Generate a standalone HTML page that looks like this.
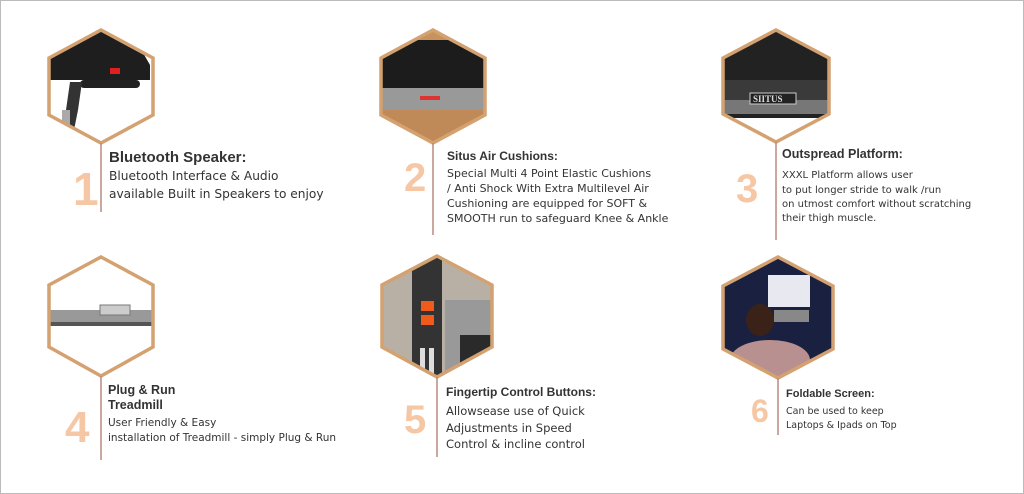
<!DOCTYPE html>
<html><head><meta charset="utf-8"><style>
body{margin:0;width:1024px;height:494px;background:#fff;overflow:hidden}
svg{display:block}
.t{font-family:"Liberation Sans",sans-serif;font-weight:bold;fill:#333}
.b{font-family:"DejaVu Sans","Liberation Sans",sans-serif;fill:#333}
.n{font-family:"Liberation Sans",sans-serif;font-weight:bold;fill:#f6c7a4}
</style></head><body>
<svg width="1024" height="494" viewBox="0 0 1024 494">
<rect x="0.5" y="0.5" width="1023" height="493" fill="#fff" stroke="#bbb"/>
<defs>
<clipPath id="c1"><polygon points="101,30 153,58 153,115 101,143 49,115 49,58"/></clipPath>
<clipPath id="c2"><polygon points="433,30 485,58 485,115 433,143 381,115 381,58"/></clipPath>
<clipPath id="c3"><polygon points="776,30 829,58 829,114 776,142 723,114 723,58"/></clipPath>
<clipPath id="c4"><polygon points="101,257 153,285 153,347 101,376 49,347 49,285"/></clipPath>
<clipPath id="c5"><polygon points="437,256 492,285 492,347 437,377 382,347 382,285"/></clipPath>
<clipPath id="c6"><polygon points="778,257 833,286 833,349 778,378 723,349 723,286"/></clipPath>
</defs>
<!-- 1 -->
<g clip-path="url(#c1)"><rect x="40" y="25" width="120" height="125" fill="#fff"/>
<polygon points="40,30 130,30 150,65 150,80 40,80" fill="#1e1e1e"/>
<rect x="110" y="68" width="10" height="6" fill="#e02020"/>
<rect x="80" y="80" width="60" height="8" rx="4" fill="#222"/>
<polygon points="70,82 82,82 78,110 72,140 62,140 66,110" fill="#333"/>
<rect x="62" y="110" width="8" height="40" fill="#aaa"/></g>
<polygon points="101,30 153,58 153,115 101,143 49,115 49,58" fill="none" stroke="#d4a170" stroke-width="3.5"/>
<line x1="101" y1="143" x2="101" y2="212" stroke="#b98a80" stroke-width="1.5"/>
<text class="n" x="73" y="205" font-size="46">1</text>
<text class="t" x="109" y="162" font-size="15">Bluetooth Speaker:</text>
<text class="b" x="109" y="180" font-size="12.2">Bluetooth Interface &amp; Audio</text>
<text class="b" x="109" y="198" font-size="12.2">available Built in Speakers to enjoy</text>
<!-- 2 -->
<g clip-path="url(#c2)"><rect x="375" y="25" width="120" height="125" fill="#c8925e"/>
<rect x="375" y="40" width="120" height="48" fill="#1c1c1c"/>
<rect x="375" y="88" width="120" height="22" fill="#999"/>
<rect x="420" y="96" width="20" height="4" fill="#d33"/>
<rect x="375" y="110" width="120" height="40" fill="#c08a58"/></g>
<polygon points="433,30 485,58 485,115 433,143 381,115 381,58" fill="none" stroke="#d4a170" stroke-width="3.5"/>
<line x1="433" y1="143" x2="433" y2="235" stroke="#b98a80" stroke-width="1.5"/>
<text class="n" x="404" y="191" font-size="40">2</text>
<text class="t" x="447" y="160" font-size="12">Situs Air Cushions:</text>
<text class="b" x="447" y="177" font-size="11">Special  Multi 4 Point Elastic Cushions</text>
<text class="b" x="447" y="192" font-size="11">/ Anti Shock With Extra Multilevel Air</text>
<text class="b" x="447" y="207" font-size="11">Cushioning  are equipped  for  SOFT &amp;</text>
<text class="b" x="447" y="222" font-size="11">SMOOTH  run to safeguard  Knee &amp; Ankle</text>
<!-- 3 -->
<g clip-path="url(#c3)"><rect x="715" y="25" width="120" height="125" fill="#222"/>
<rect x="715" y="80" width="120" height="30" fill="#3a3a3a"/>
<rect x="715" y="100" width="120" height="14" fill="#777"/>
<rect x="750" y="93" width="46" height="11" fill="#222" stroke="#ccc"/>
<text x="753" y="102" font-size="9" fill="#ddd" font-family="Liberation Serif,serif" font-weight="bold">SIITUS</text>
<rect x="715" y="118" width="120" height="30" fill="#fff"/></g>
<polygon points="776,30 829,58 829,114 776,142 723,114 723,58" fill="none" stroke="#d4a170" stroke-width="3.5"/>
<line x1="776" y1="142" x2="776" y2="240" stroke="#b98a80" stroke-width="1.5"/>
<text class="n" x="736" y="202" font-size="40">3</text>
<text class="t" x="782" y="158" font-size="12.5">Outspread Platform:</text>
<text class="b" x="782" y="178" font-size="10">XXXL  Platform allows user</text>
<text class="b" x="782" y="193" font-size="10">to put longer stride  to walk /run</text>
<text class="b" x="782" y="207" font-size="10">on utmost comfort  without scratching</text>
<text class="b" x="782" y="221" font-size="10"> their  thigh muscle.</text>
<!-- 4 -->
<g clip-path="url(#c4)"><rect x="40" y="250" width="120" height="130" fill="#fff"/>
<rect x="49" y="310" width="105" height="12" fill="#999"/>
<rect x="100" y="305" width="30" height="10" fill="#ccc" stroke="#777"/>
<rect x="49" y="322" width="105" height="4" fill="#555"/></g>
<polygon points="101,257 153,285 153,347 101,376 49,347 49,285" fill="none" stroke="#d4a170" stroke-width="3.5"/>
<line x1="101" y1="376" x2="101" y2="460" stroke="#b98a80" stroke-width="1.5"/>
<text class="n" x="65" y="442" font-size="44">4</text>
<text class="t" x="108" y="394" font-size="12.5">Plug &amp; Run</text>
<text class="t" x="108" y="409" font-size="12.5">Treadmill</text>
<text class="b" x="108" y="426" font-size="10.5">User Friendly &amp; Easy</text>
<text class="b" x="108" y="441" font-size="10.5">installation of Treadmill - simply Plug &amp; Run</text>
<!-- 5 -->
<g clip-path="url(#c5)"><rect x="375" y="250" width="125" height="130" fill="#b8b0a4"/>
<rect x="412" y="250" width="30" height="130" fill="#333"/>
<rect x="445" y="300" width="50" height="80" fill="#999"/>
<rect x="460" y="335" width="40" height="45" fill="#2a2a2a"/>
<rect x="421" y="301" width="13" height="10" fill="#f05a1a"/>
<rect x="421" y="315" width="13" height="10" fill="#f05a1a"/>
<rect x="420" y="348" width="5" height="30" fill="#ddd"/><rect x="429" y="348" width="5" height="30" fill="#ddd"/></g>
<polygon points="437,256 492,285 492,347 437,377 382,347 382,285" fill="none" stroke="#d4a170" stroke-width="3.5"/>
<line x1="437" y1="377" x2="437" y2="457" stroke="#b98a80" stroke-width="1.5"/>
<text class="n" x="404" y="433" font-size="40">5</text>
<text class="t" x="446" y="396" font-size="12">Fingertip Control Buttons:</text>
<text class="b" x="446" y="415" font-size="11.5">Allowsease use of Quick</text>
<text class="b" x="446" y="432" font-size="11.5">Adjustments in Speed</text>
<text class="b" x="446" y="448" font-size="11.5">Control &amp; incline control</text>
<!-- 6 -->
<g clip-path="url(#c6)"><rect x="715" y="250" width="125" height="130" fill="#1a2040"/>
<rect x="768" y="275" width="42" height="32" fill="#e8e8f0"/>
<rect x="774" y="310" width="35" height="12" fill="#888"/>
<ellipse cx="760" cy="320" rx="14" ry="16" fill="#3a2218"/>
<ellipse cx="770" cy="360" rx="40" ry="20" fill="#b89090"/></g>
<polygon points="778,257 833,286 833,349 778,378 723,349 723,286" fill="none" stroke="#d4a170" stroke-width="3.5"/>
<line x1="778" y1="378" x2="778" y2="435" stroke="#b98a80" stroke-width="1.5"/>
<text class="n" x="751" y="422" font-size="32">6</text>
<text class="t" x="786" y="397" font-size="11">Foldable Screen:</text>
<text class="b" x="786" y="414" font-size="9.5">Can be used to keep</text>
<text class="b" x="786" y="428" font-size="9.5">Laptops &amp; Ipads on Top</text>
</svg>
</body></html>
